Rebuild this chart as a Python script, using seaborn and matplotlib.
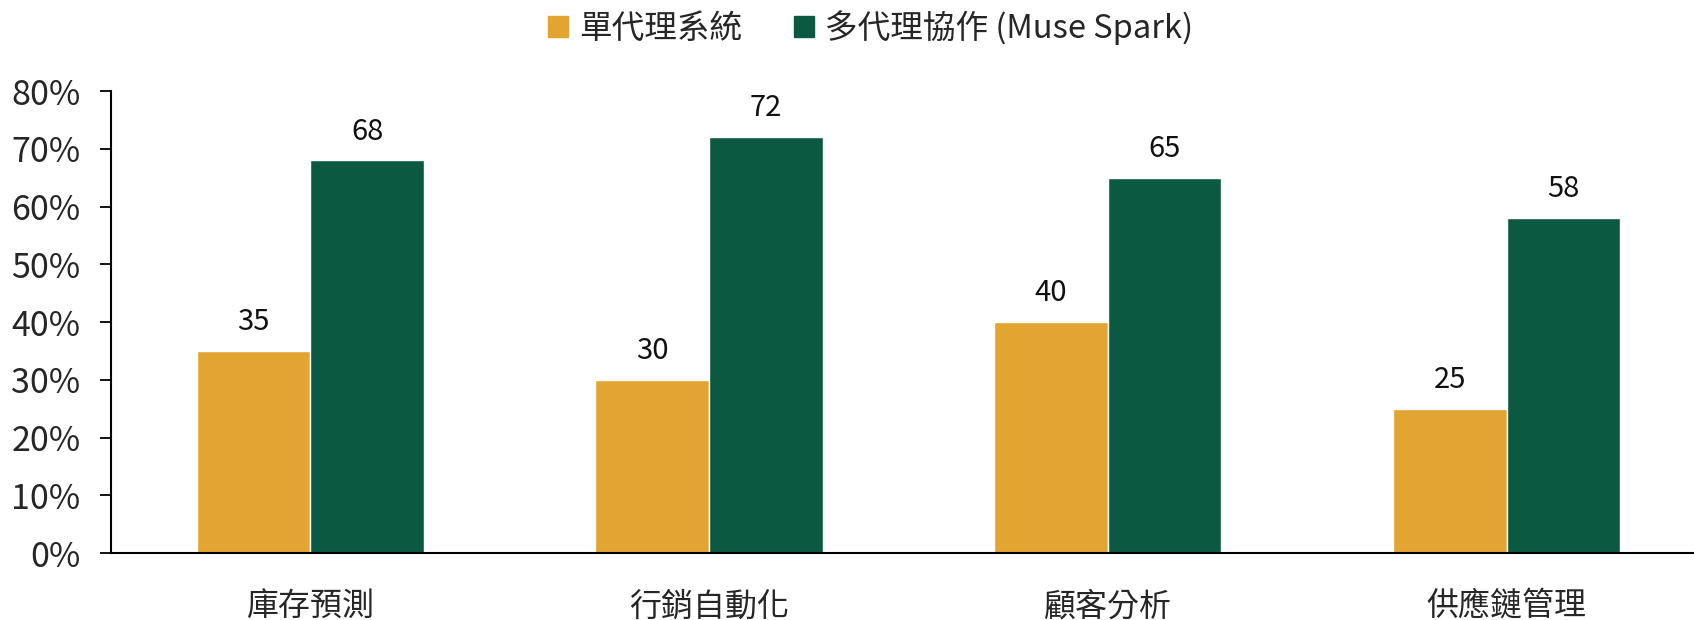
import pandas as pd
import matplotlib
matplotlib.use("Agg")
import matplotlib.pyplot as plt
import seaborn as sns
from matplotlib.ticker import FuncFormatter

categories = ["庫存預測", "行銷自動化", "顧客分析", "供應鏈管理"]
single_agent = [35, 30, 40, 25]
multi_agent = [68, 72, 65, 58]
series_names = ["單代理系統", "多代理協作 (Muse Spark)"]
colors = ["#E3A532", "#0B5940"]

df = pd.DataFrame({
    "category": categories * 2,
    "series": [series_names[0]] * 4 + [series_names[1]] * 4,
    "value": single_agent + multi_agent,
})

sns.set_theme(style="white")
plt.rcParams["font.family"] = ["Noto Sans CJK TC", "DejaVu Sans"]

fig = plt.figure(figsize=(16.94, 6.2), dpi=100)
ax = fig.add_axes([0.0655, 0.108, 0.9345, 0.745])

sns.barplot(
    data=df,
    x="category",
    y="value",
    hue="series",
    palette=colors,
    width=0.57,
    gap=0,
    saturation=1,
    ax=ax,
    legend=False,
)

for container in ax.containers:
    ax.bar_label(container, fmt="%d", padding=10, fontsize=21, color="#111111")

ax.set_ylim(0, 80)
ax.set_xlim(-0.5, 3.47)
ax.set_yticks(range(0, 81, 10))
ax.yaxis.set_major_formatter(FuncFormatter(lambda v, p: f"{int(v)}%"))
ax.set_xlabel("")
ax.set_ylabel("")

ax.tick_params(axis="y", length=8, width=1.3, color="black", labelsize=24.5, pad=14, left=True)
ax.tick_params(axis="x", length=0, labelsize=23, pad=27)

sns.despine(ax=ax)
for side in ["left", "bottom"]:
    ax.spines[side].set_color("black")
    ax.spines[side].set_linewidth(1.5)

handles = [plt.Rectangle((0, 0), 1, 1, color=c) for c in colors]
fig.legend(
    handles,
    series_names,
    loc="center",
    bbox_to_anchor=(0.514, 0.955),
    ncol=2,
    frameon=False,
    fontsize=23.5,
    handlelength=0.6,
    handleheight=0.6,
    handletextpad=0.35,
    columnspacing=1.6,
)

fig.savefig("out.png", dpi=100)
